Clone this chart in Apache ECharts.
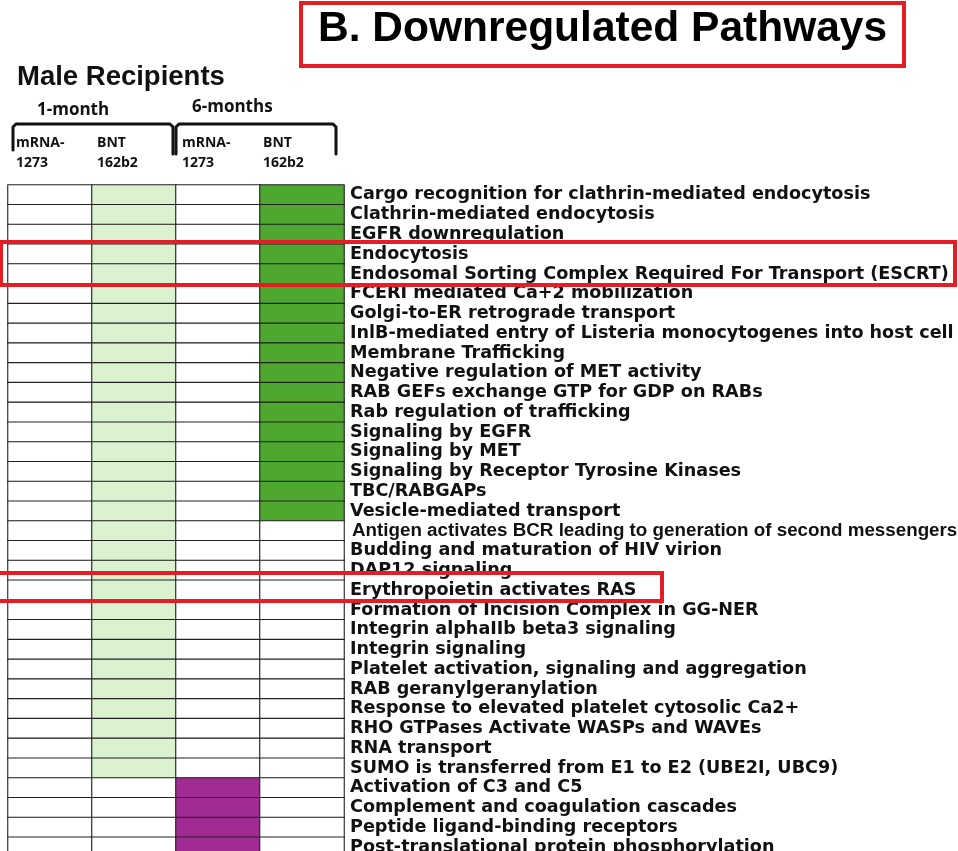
<!DOCTYPE html>
<html>
<head>
<meta charset="utf-8">
<script src="https://cdn.jsdelivr.net/npm/echarts@6/dist/echarts.min.js"></script>
<style>
html,body{margin:0;padding:0;background:#fff;}
#chart{width:958px;height:851px;}
</style>
</head>
<body>
<div id="chart"></div>
<script>
const columns = ['1m mRNA-1273', '1m BNT162b2', '6m mRNA-1273', '6m BNT162b2'];
const pathways = [
  'Cargo recognition for clathrin-mediated endocytosis',
  'Clathrin-mediated endocytosis',
  'EGFR downregulation',
  'Endocytosis',
  'Endosomal Sorting Complex Required For Transport (ESCRT)',
  'FCERI mediated Ca+2 mobilization',
  'Golgi-to-ER retrograde transport',
  'InlB-mediated entry of Listeria monocytogenes into host cell',
  'Membrane Trafficking',
  'Negative regulation of MET activity',
  'RAB GEFs exchange GTP for GDP on RABs',
  'Rab regulation of trafficking',
  'Signaling by EGFR',
  'Signaling by MET',
  'Signaling by Receptor Tyrosine Kinases',
  'TBC/RABGAPs',
  'Vesicle-mediated transport',
  'Antigen activates BCR leading to generation of second messengers',
  'Budding and maturation of HIV virion',
  'DAP12 signaling',
  'Erythropoietin activates RAS',
  'Formation of Incision Complex in GG-NER',
  'Integrin alphaIIb beta3 signaling',
  'Integrin signaling',
  'Platelet activation, signaling and aggregation',
  'RAB geranylgeranylation',
  'Response to elevated platelet cytosolic Ca2+',
  'RHO GTPases Activate WASPs and WAVEs',
  'RNA transport',
  'SUMO is transferred from E1 to E2 (UBE2I, UBC9)',
  'Activation of C3 and C5',
  'Complement and coagulation cascades',
  'Peptide ligand-binding receptors',
  'Post-translational protein phosphorylation'
];
// 0 = not significant, 1 = BNT 1-month, 2 = BNT 6-months, 3 = mRNA-1273 6-months
const mrna1m = [0,0,0,0,0,0,0,0,0,0,0,0,0,0,0,0,0,0,0,0,0,0,0,0,0,0,0,0,0,0,0,0,0,0];
const bnt1m  = [1,1,1,1,1,1,1,1,1,1,1,1,1,1,1,1,1,1,1,1,1,1,1,1,1,1,1,1,1,1,0,0,0,0];
const mrna6m = [0,0,0,0,0,0,0,0,0,0,0,0,0,0,0,0,0,0,0,0,0,0,0,0,0,0,0,0,0,0,3,3,3,3];
const bnt6m  = [2,2,2,2,2,2,2,2,2,2,2,2,2,2,2,2,2,0,0,0,0,0,0,0,0,0,0,0,0,0,0,0,0,0];
const statusColors = ['#ffffff', '#daf2d0', '#4ea72e', '#a02b93'];

const colArrays = [mrna1m, bnt1m, mrna6m, bnt6m];
const data = [];
colArrays.forEach((arr, c) => arr.forEach((v, r) => data.push([c, r, v])));

const chart = echarts.init(document.getElementById('chart'));
const bracketStyle = {stroke: '#111', lineWidth: 3, fill: null, lineJoin: 'round', lineCap: 'round'};
const hdr = {fill: '#111', font: 'bold 14px "Open Sans"'};
chart.setOption({
  animation: false,
  backgroundColor: '#fff',
  grid: {left: 8, right: 614, top: 185, bottom: -6, containLabel: false, outerBoundsMode: 'none'},
  xAxis: {type: 'category', data: columns, show: false},
  yAxis: {
    type: 'category', data: pathways, inverse: true, position: 'right',
    axisLine: {show: false}, axisTick: {show: false}, splitLine: {show: false},
    axisLabel: {
      interval: 0, margin: 6, align: 'left', color: '#111', fontSize: 17.6, fontWeight: 'bold',
      fontFamily: 'DejaVu Sans',
      formatter: function (v) {
        return v.indexOf('Antigen') === 0 ? '{a|' + v + '}' : v;
      },
      rich: {a: {fontFamily: 'Liberation Sans', fontWeight: 'bold', fontSize: 18.8, color: '#111', padding: [0,0,0,2]}}
    }
  },
  visualMap: {
    show: false, type: 'piecewise', dimension: 2,
    pieces: statusColors.map((c, i) => ({value: i, color: c}))
  },
  series: [{
    type: 'heatmap', data: data,
    itemStyle: {borderColor: '#222', borderWidth: 1.1},
    emphasis: {disabled: true}
  }],
  graphic: [
    {type: 'text', left: 318, top: 8, style: {text: 'B. Downregulated Pathways', fill: '#000', font: 'bold 42.5px "Liberation Sans"'}},
    {type: 'rect', shape: {x: 301, y: 3, width: 603, height: 63}, style: {stroke: '#e31e25', lineWidth: 4, fill: null}},
    {type: 'text', left: 17, top: 63, style: {text: 'Male Recipients', fill: '#111', font: 'bold 27.5px "Liberation Sans"'}},
    {type: 'text', left: 37, top: 102, style: {text: '1-month', fill: '#111', font: 'bold 17px "Open Sans"'}},
    {type: 'text', left: 192, top: 99, style: {text: '6-months', fill: '#111', font: 'bold 17px "Open Sans"'}},
    {type: 'polyline', shape: {points: [[13,150],[13,127],[16,124],[170,124],[173,127],[173,154]]}, style: bracketStyle},
    {type: 'polyline', shape: {points: [[176,154],[176,127],[179,124],[333,124],[336,127],[336,154]]}, style: bracketStyle},
    {type: 'text', left: 16, top: 133, style: Object.assign({text: 'mRNA-\n1273', lineHeight: 20}, hdr)},
    {type: 'text', left: 97, top: 133, style: Object.assign({text: 'BNT\n162b2', lineHeight: 20}, hdr)},
    {type: 'text', left: 182, top: 133, style: Object.assign({text: 'mRNA-\n1273', lineHeight: 20}, hdr)},
    {type: 'text', left: 263, top: 133, style: Object.assign({text: 'BNT\n162b2', lineHeight: 20}, hdr)},
    {type: 'rect', z: 100, shape: {x: 1, y: 242, width: 954, height: 43}, style: {stroke: '#e31e25', lineWidth: 4, fill: null}},
    {type: 'rect', z: 100, shape: {x: -6, y: 573, width: 668, height: 28}, style: {stroke: '#e31e25', lineWidth: 4, fill: null}}
  ]
});
</script>
</body>
</html>
